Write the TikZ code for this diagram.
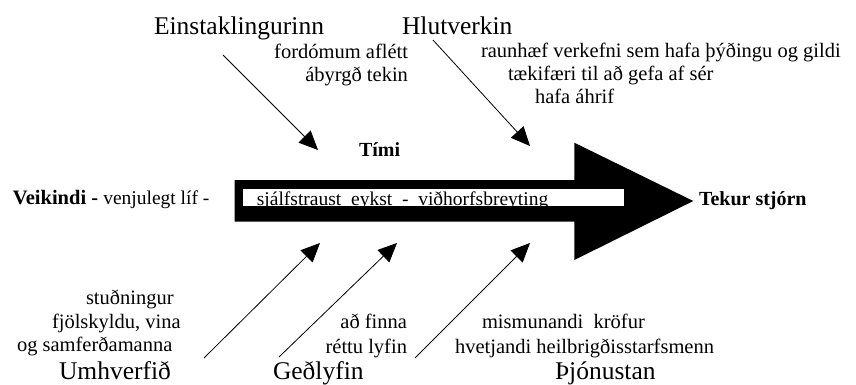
\documentclass[tikz,border=0pt]{standalone}
\usepackage{fontspec}
\setmainfont{Liberation Serif}
\usetikzlibrary{arrows.meta}
\tikzset{
  bigtxt/.style={font=\fontsize{25.5}{28}\selectfont, inner sep=0pt, outer sep=0pt},
  smalltxt/.style={font=\fontsize{20.5}{23}\selectfont, inner sep=0pt, outer sep=0pt},
  boldtxt/.style={font=\fontsize{20}{22}\selectfont\bfseries, inner sep=0pt, outer sep=0pt},
  inflow/.style={line width=0.8pt, -{Triangle[length=19pt,width=17pt]}},
}
\begin{document}
\begin{tikzpicture}[x=1pt,y=-1pt]
\useasboundingbox (0,0) rectangle (856,385);

% big arrow
\fill[black] (234.7,180) -- (574.3,180) -- (574.3,142.7) -- (693.3,201) -- (574.3,260) -- (574.3,221.7) -- (234.7,221.7) -- cycle;
\fill[white] (243.3,189.3) rectangle (624.3,206);
\begin{scope}
  \clip (243.3,189.3) rectangle (624.3,206);
  \node[font=\fontsize{19.5}{22}\selectfont, inner sep=0pt, anchor=base west] (inner) at (256.7,205) {sjálfstraust\ \ eykst\ \ -\ \ viðhorfsbreyting};
\end{scope}

% top labels
\node[bigtxt, anchor=base west] (einst) at (154,34.5) {Einstaklingurinn};
\node[bigtxt, anchor=base west] (hlut) at (402,34.5) {Hlutverkin};
\node[smalltxt, anchor=base east] (ford) at (408,58.5) {fordómum aflétt};
\node[smalltxt, anchor=base east] (abyr) at (408,82) {ábyrgð tekin};
\node[smalltxt, anchor=base west] (raun) at (481,58) {raunhæf verkefni sem hafa þýðingu og gildi};
\node[smalltxt, anchor=base west] (taek) at (508,81) {tækifæri til að gefa af sér};
\node[smalltxt, anchor=base west] (hafa) at (535,104) {hafa áhrif};
\node[boldtxt, anchor=base west] (timi) at (359,156.5) {Tími};

% middle labels
\node[inner sep=0pt, anchor=base west] (veik) at (12.7,204) {\fontsize{20.5}{22}\selectfont\textbf{Veikindi -} \fontsize{19.5}{22}\selectfont venjulegt líf -};
\node[boldtxt, anchor=base west] (tekur) at (699,205) {Tekur stjórn};

% bottom labels
\node[smalltxt, anchor=base west] (stud) at (86,304) {stuðningur};
\node[smalltxt, anchor=base west] (fjol) at (52,328) {fjölskyldu, vina};
\node[smalltxt, anchor=base west] (samf) at (17,351) {og samferðamanna};
\node[bigtxt, anchor=base west] (umhv) at (59,379) {Umhverfið};
\node[smalltxt, anchor=base east] (finna) at (407,328) {að finna};
\node[smalltxt, anchor=base east] (rettu) at (407,353) {réttu lyfin};
\node[bigtxt, anchor=base west] (gedl) at (273,379) {Geðlyfin};
\node[smalltxt, anchor=base west] (mism) at (482,328) {mismunandi\ \ kröfur};
\node[smalltxt, anchor=base west] (hvet) at (455,353) {hvetjandi heilbrigðisstarfsmenn};
\node[bigtxt, anchor=base west] (thjon) at (555,379) {Þjónustan};

% arrow endpoints
\coordinate (a1s) at (223,55);   \coordinate (a1e) at (318,150);
\coordinate (a2s) at (433,40);   \coordinate (a2e) at (530,146);
\coordinate (a3s) at (204,358);  \coordinate (a3e) at (320,243);
\coordinate (a4s) at (279,357);  \coordinate (a4e) at (397,243);
\coordinate (a5s) at (415,358);  \coordinate (a5e) at (530,243);

\draw[inflow] (a1s) -- (a1e);
\draw[inflow] (a2s) -- (a2e);
\draw[inflow] (a3s) -- (a3e);
\draw[inflow] (a4s) -- (a4e);
\draw[inflow] (a5s) -- (a5e);
\end{tikzpicture}
\end{document}
